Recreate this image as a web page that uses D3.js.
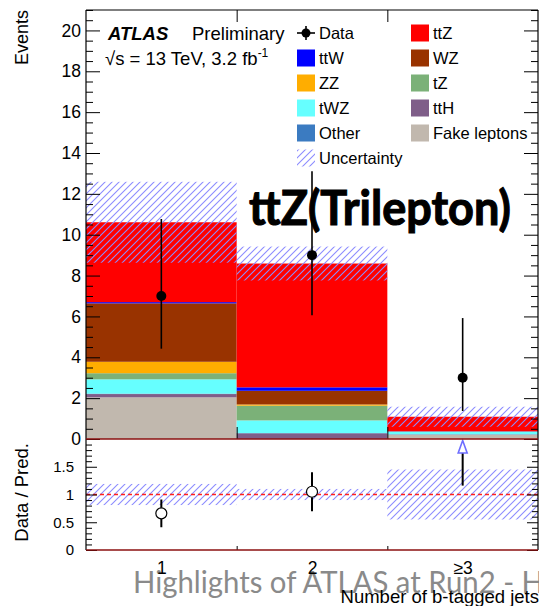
<!DOCTYPE html>
<html>
<head>
<meta charset="utf-8">
<script src="https://cdn.jsdelivr.net/npm/d3@7"></script>
<style>
  html, body { margin: 0; padding: 0; background: #fff; }
  svg { display: block; }
  text { font-family: "Liberation Sans", Arial, sans-serif; }
</style>
</head>
<body>
<svg id="chart" width="539" height="606"></svg>
<script>
// ---- data ----
const categories = ["1", "2", "≥3"];
const binCenters = [1, 2, 3];

// stacked predictions per b-jet bin (bottom of the stack first)
const fake  = [2.04, 0.00, 0.20];
const ttH   = [0.16, 0.28, 0.02];
const other = [0.02, 0.01, 0.01];
const tWZ   = [0.70, 0.62, 0.12];
const tZ    = [0.30, 0.72, 0.02];
const ZZ    = [0.56, 0.06, 0.00];
const WZ    = [2.86, 0.67, 0.00];
const ttW   = [0.06, 0.17, 0.01];
const ttZ   = [3.91, 6.06, 0.71];

// total prediction uncertainty (absolute)
const predUnc = [1.98, 0.83, 0.49];

// observed data with asymmetric Poisson errors
const dataVals = [7, 9, 3];
const dataErrLo = [2.58, 2.94, 1.63];
const dataErrHi = [3.77, 4.11, 2.92];

// ratio panel
const ratioVals = [0.66, 1.05, 2.75];
const ratioErr  = [0.25, 0.35, 1.59];
const ratioBand = [0.19, 0.10, 0.45];

const yTicksMain = [0, 2, 4, 6, 8, 10, 12, 14, 16, 18, 20];
const yTicksRatio = [0, 0.5, 1, 1.5];

const samples = [
  { key: "fake",  label: "Fake leptons", color: "#c1b8ae", values: fake },
  { key: "ttH",   label: "ttH",          color: "#7f5e89", values: ttH },
  { key: "other", label: "Other",        color: "#3b7bc1", values: other },
  { key: "tWZ",   label: "tWZ",          color: "#66ffff", values: tWZ },
  { key: "tZ",    label: "tZ",           color: "#7bb178", values: tZ },
  { key: "ZZ",    label: "ZZ",           color: "#ffad00", values: ZZ },
  { key: "WZ",    label: "WZ",           color: "#993300", values: WZ },
  { key: "ttW",   label: "ttW",          color: "#0000ff", values: ttW },
  { key: "ttZ",   label: "ttZ",          color: "#ff0000", values: ttZ }
];
const colorOf = Object.fromEntries(samples.map(s => [s.key, s.color]));

// ---- layout ----
const L = 86, R = 538;
const mainTop = 10, mainBot = 439;
const ratTop = 439, ratBot = 550;

const svg = d3.select("#chart");
const defs = svg.append("defs");
defs.append("pattern")
  .attr("id", "hatch")
  .attr("patternUnits", "userSpaceOnUse")
  .attr("width", 7).attr("height", 7)
  .append("path")
  .attr("d", "M-1,1 l2,-2 M0,7 l7,-7 M6,8 l2,-2")
  .attr("stroke", "#8c8cff")
  .attr("stroke-width", 1.1);

const x = d3.scaleLinear().domain([0.5, 3.5]).range([L, R]);
const yMain = d3.scaleLinear().domain([0, 21]).range([mainBot, mainTop]);
const yRat = d3.scaleLinear().domain([0, 2]).range([ratBot, ratTop]);

// watermark text along the bottom
svg.append("text")
  .attr("x", 133).attr("y", 593)
  .attr("textLength", 411).attr("lengthAdjust", "spacingAndGlyphs")
  .style("font-family", "Lato, 'Open Sans', sans-serif")
  .style("font-size", "31px")
  .attr("fill", "#8a8a8a")
  .text("Highlights of ATLAS at Run2 - H");

// ---- main panel: stacked histogram ----
const table = categories.map((c, i) => {
  const row = { bin: binCenters[i] };
  samples.forEach(s => { row[s.key] = s.values[i]; });
  return row;
});
const stack = d3.stack().keys(samples.map(s => s.key))(table);

const gMain = svg.append("g");
stack.forEach(layer => {
  gMain.selectAll(null)
    .data(layer)
    .join("rect")
    .attr("x", d => x(d.data.bin - 0.5))
    .attr("width", d => x(d.data.bin + 0.5) - x(d.data.bin - 0.5))
    .attr("y", d => yMain(d[1]))
    .attr("height", d => Math.max(0, yMain(d[0]) - yMain(d[1])))
    .attr("fill", colorOf[layer.key]);
});

// uncertainty band on the total prediction
const totals = categories.map((c, i) => d3.sum(samples, s => s.values[i]));
gMain.selectAll(null)
  .data(categories.map((c, i) => ({ bin: binCenters[i], tot: totals[i], u: predUnc[i] })))
  .join("rect")
  .attr("x", d => x(d.bin - 0.5))
  .attr("width", d => x(d.bin + 0.5) - x(d.bin - 0.5))
  .attr("y", d => yMain(d.tot + d.u))
  .attr("height", d => yMain(d.tot - d.u) - yMain(d.tot + d.u))
  .attr("fill", "url(#hatch)");

// channel label
svg.append("text")
  .attr("x", 249).attr("y", 225)
  .attr("textLength", 262).attr("lengthAdjust", "spacingAndGlyphs")
  .style("font-family", "Lato, 'Open Sans', sans-serif")
  .style("font-weight", "bold")
  .style("font-size", "47px")
  .attr("fill", "#000")
  .attr("stroke", "#000")
  .attr("stroke-width", 1.1)
  .text("ttZ(Trilepton)");

// data points
const pts = categories.map((c, i) => ({
  bin: binCenters[i], v: dataVals[i], lo: dataErrLo[i], hi: dataErrHi[i]
}));
gMain.selectAll(null).data(pts).join("line")
  .attr("x1", d => x(d.bin)).attr("x2", d => x(d.bin))
  .attr("y1", d => yMain(d.v - d.lo)).attr("y2", d => yMain(d.v + d.hi))
  .attr("stroke", "#000").attr("stroke-width", 1.6);
gMain.selectAll(null).data(pts).join("circle")
  .attr("cx", d => x(d.bin)).attr("cy", d => yMain(d.v))
  .attr("r", 5).attr("fill", "#000");

// ---- ratio panel ----
const gRat = svg.append("g");
gRat.selectAll(null)
  .data(categories.map((c, i) => ({ bin: binCenters[i], u: ratioBand[i] })))
  .join("rect")
  .attr("x", d => x(d.bin - 0.5))
  .attr("width", d => x(d.bin + 0.5) - x(d.bin - 0.5))
  .attr("y", d => yRat(1 + d.u))
  .attr("height", d => yRat(1 - d.u) - yRat(1 + d.u))
  .attr("fill", "url(#hatch)");

gRat.append("line")
  .attr("x1", L).attr("x2", R)
  .attr("y1", yRat(1)).attr("y2", yRat(1))
  .attr("stroke", "#ff2020").attr("stroke-width", 1.6)
  .attr("stroke-dasharray", "4,3");

const rpts = categories.map((c, i) => ({ bin: binCenters[i], v: ratioVals[i], e: ratioErr[i] }));
const rMax = yRat.domain()[1];
const rr = 5.5;
rpts.forEach(d => {
  const cx = x(d.bin);
  if (d.v <= rMax) {
    const cy = yRat(d.v);
    gRat.append("line")
      .attr("x1", cx).attr("x2", cx)
      .attr("y1", yRat(Math.min(rMax, d.v + d.e))).attr("y2", cy - rr)
      .attr("stroke", "#000").attr("stroke-width", 2);
    gRat.append("line")
      .attr("x1", cx).attr("x2", cx)
      .attr("y1", cy + rr).attr("y2", yRat(Math.max(0, d.v - d.e)))
      .attr("stroke", "#000").attr("stroke-width", 2);
    gRat.append("circle")
      .attr("cx", cx).attr("cy", cy).attr("r", rr)
      .attr("fill", "#fff").attr("stroke", "#000").attr("stroke-width", 1.2);
  } else {
    // point above the axis range: arrow pointing up
    const tip = yRat(rMax) + 1.5, base = tip + 12.5;
    gRat.append("line")
      .attr("x1", cx).attr("x2", cx)
      .attr("y1", yRat(d.v - d.e)).attr("y2", base)
      .attr("stroke", "#000").attr("stroke-width", 2);
    gRat.append("path")
      .attr("d", `M${cx},${tip} L${cx + 4.5},${base} L${cx - 4.5},${base} Z`)
      .attr("fill", "#fff").attr("stroke", "#6e6eff").attr("stroke-width", 1.6);
  }
});

// ---- frames and axes ----
function styleAxis(g, fontSize) {
  g.select(".domain").remove();
  g.selectAll(".tick line").attr("stroke", "#000").attr("stroke-width", 1);
  g.selectAll(".tick text")
    .style("font-family", "'Liberation Sans', Arial, sans-serif")
    .style("font-size", fontSize)
    .attr("fill", "#000");
}

// main y axis
const minorMain = d3.range(0, 43).map(i => i / 2).filter(v => v % 2 !== 0);
svg.append("g").attr("transform", `translate(${L},0)`)
  .call(d3.axisLeft(yMain).tickValues(yTicksMain).tickSize(-14).tickPadding(5).tickFormat(d3.format("d")))
  .call(g => styleAxis(g, "17.5px"));
svg.append("g").attr("transform", `translate(${L},0)`)
  .call(d3.axisLeft(yMain).tickValues(minorMain).tickSize(-7).tickFormat(""))
  .call(g => styleAxis(g, "0px"));
svg.append("g").attr("transform", `translate(${R},0)`)
  .call(d3.axisRight(yMain).tickValues(yTicksMain).tickSize(-14).tickFormat(""))
  .call(g => styleAxis(g, "0px"));
svg.append("g").attr("transform", `translate(${R},0)`)
  .call(d3.axisRight(yMain).tickValues(minorMain).tickSize(-7).tickFormat(""))
  .call(g => styleAxis(g, "0px"));

// ratio y axis
const minorRat = d3.range(0, 21).filter(i => i % 5 !== 0).map(i => i / 10);
svg.append("g").attr("transform", `translate(${L},0)`)
  .call(d3.axisLeft(yRat).tickValues(yTicksRatio).tickSize(-11).tickPadding(12).tickFormat(d => String(d)))
  .call(g => styleAxis(g, "15px"));
svg.append("g").attr("transform", `translate(${L},0)`)
  .call(d3.axisLeft(yRat).tickValues(minorRat).tickSize(-6).tickFormat(""))
  .call(g => styleAxis(g, "0px"));
svg.append("g").attr("transform", `translate(${R},0)`)
  .call(d3.axisRight(yRat).tickValues(yTicksRatio).tickSize(-11).tickFormat(""))
  .call(g => styleAxis(g, "0px"));
svg.append("g").attr("transform", `translate(${R},0)`)
  .call(d3.axisRight(yRat).tickValues(minorRat).tickSize(-6).tickFormat(""))
  .call(g => styleAxis(g, "0px"));

// bin-edge ticks
const edges = [1.5, 2.5];
svg.append("g").attr("transform", `translate(0,${mainTop})`)
  .call(d3.axisTop(x).tickValues(edges).tickSize(-12).tickFormat(""))
  .call(g => styleAxis(g, "0px"));
svg.append("g").attr("transform", `translate(0,${mainBot})`)
  .call(d3.axisBottom(x).tickValues(edges).tickSize(-12).tickFormat(""))
  .call(g => styleAxis(g, "0px"));
svg.append("g").attr("transform", `translate(0,${ratBot})`)
  .call(d3.axisBottom(x).tickValues(edges).tickSize(-4).tickFormat(""))
  .call(g => styleAxis(g, "0px"));

// category labels under the ratio panel
svg.append("g").attr("transform", `translate(0,${ratBot})`)
  .call(d3.axisBottom(x).tickValues(binCenters).tickSize(0).tickPadding(12)
    .tickFormat((d, i) => categories[i]))
  .call(g => styleAxis(g, "17.5px"));

// frames
svg.append("line").attr("x1", L).attr("x2", R).attr("y1", mainTop).attr("y2", mainTop)
  .attr("stroke", "#000").attr("stroke-width", 1.2);
[L, R].forEach(px => {
  svg.append("line").attr("x1", px).attr("x2", px).attr("y1", mainTop).attr("y2", ratBot)
    .attr("stroke", "#000").attr("stroke-width", 1.2);
});
[mainBot, ratBot].forEach(py => {
  svg.append("line").attr("x1", L).attr("x2", R).attr("y1", py).attr("y2", py)
    .attr("stroke", "#8b1010").attr("stroke-width", 1.5);
});

// axis titles
svg.append("text")
  .attr("transform", "translate(28,10) rotate(-90)")
  .attr("text-anchor", "end")
  .style("font-size", "18px")
  .text("Events");
svg.append("text")
  .attr("transform", "translate(28,443) rotate(-90)")
  .attr("text-anchor", "end")
  .style("font-size", "18.5px")
  .text("Data / Pred.");
svg.append("text")
  .attr("x", 539).attr("y", 603)
  .attr("text-anchor", "end")
  .style("font-size", "18.5px")
  .text("Number of b-tagged jets");

// ---- header ----
svg.append("text")
  .attr("x", 108).attr("y", 40)
  .style("font-size", "18.5px").style("font-weight", "bold").style("font-style", "italic")
  .text("ATLAS");
svg.append("text")
  .attr("x", 192).attr("y", 40)
  .style("font-size", "18.5px")
  .text("Preliminary");
const lumi = svg.append("text")
  .attr("x", 105).attr("y", 65)
  .style("font-size", "18.5px");
lumi.append("tspan").text("√s = 13 TeV, 3.2 fb");
lumi.append("tspan").attr("dy", -8).style("font-size", "12px").text("-1");

// ---- legend ----
const legendCols = [
  { x: 297, items: [
    { type: "data", label: "Data" },
    { type: "box", key: "ttW", label: "ttW" },
    { type: "box", key: "ZZ", label: "ZZ" },
    { type: "box", key: "tWZ", label: "tWZ" },
    { type: "box", key: "other", label: "Other" },
    { type: "unc", label: "Uncertainty" }
  ]},
  { x: 411, items: [
    { type: "box", key: "ttZ", label: "ttZ" },
    { type: "box", key: "WZ", label: "WZ" },
    { type: "box", key: "tZ", label: "tZ" },
    { type: "box", key: "ttH", label: "ttH" },
    { type: "box", key: "fake", label: "Fake leptons" }
  ]}
];
const rowY0 = 33, rowStep = 25;
const gLeg = svg.append("g");
legendCols.forEach(col => {
  col.items.forEach((it, i) => {
    const cy = rowY0 + i * rowStep;
    if (it.type === "data") {
      gLeg.append("line").attr("x1", col.x).attr("x2", col.x + 18).attr("y1", cy).attr("y2", cy)
        .attr("stroke", "#000").attr("stroke-width", 1.6);
      gLeg.append("line").attr("x1", col.x + 9).attr("x2", col.x + 9).attr("y1", cy - 7).attr("y2", cy + 7)
        .attr("stroke", "#000").attr("stroke-width", 1.6);
      gLeg.append("circle").attr("cx", col.x + 9).attr("cy", cy).attr("r", 4.5).attr("fill", "#000");
    } else if (it.type === "unc") {
      gLeg.append("rect").attr("x", col.x).attr("y", cy - 8.5).attr("width", 18).attr("height", 17)
        .attr("fill", "url(#hatch)");
    } else {
      gLeg.append("rect").attr("x", col.x).attr("y", cy - 8.5).attr("width", 18).attr("height", 17)
        .attr("fill", colorOf[it.key]);
    }
    gLeg.append("text")
      .attr("x", col.x + 22).attr("y", cy + 6)
      .style("font-size", "16.5px")
      .text(it.label);
  });
});
</script>
</body>
</html>
